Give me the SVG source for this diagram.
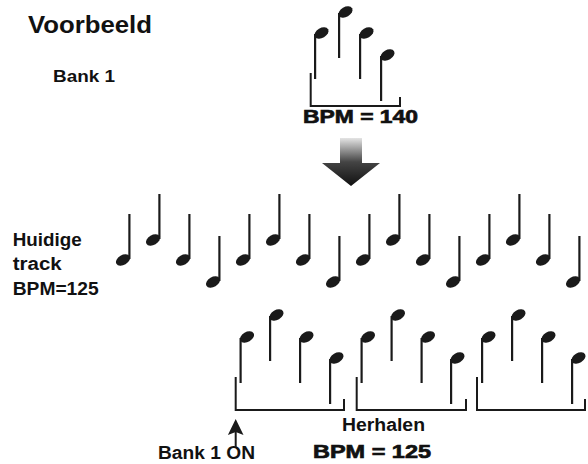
<svg xmlns="http://www.w3.org/2000/svg" xmlns:xlink="http://www.w3.org/1999/xlink" width="588" height="464" viewBox="0 0 588 464">
  <style>
    .t { font-family: "Liberation Sans", Arial, sans-serif; font-weight: bold; fill: #111; }
    .bpm { font-family: "Liberation Sans", Arial, sans-serif; font-weight: 900; fill: #111; stroke: #111; stroke-width: 0.7; }
    .stem { stroke: #1a1a1a; stroke-width: 2.2; fill: none; }
    .br { stroke: #1a1a1a; stroke-width: 2; fill: none; }
    .head { fill: #1a1a1a; }
  </style>
  <defs>
    <g id="up">
      <ellipse class="head" cx="0" cy="0" rx="7.6" ry="5" transform="rotate(-30)"/>
      <line class="stem" x1="6.4" y1="-1" x2="6.4" y2="-46"/>
    </g>
    <g id="down">
      <ellipse class="head" cx="0" cy="0" rx="7.6" ry="5" transform="rotate(-30)"/>
      <line class="stem" x1="-6.4" y1="1" x2="-6.4" y2="46"/>
    </g>
    <linearGradient id="arrowGrad" gradientUnits="userSpaceOnUse" x1="0" y1="138" x2="0" y2="186">
      <stop offset="0" stop-color="#e4e4e4"/>
      <stop offset="0.5" stop-color="#444"/>
      <stop offset="1" stop-color="#111"/>
    </linearGradient>
  </defs>
  <rect width="588" height="464" fill="#fff"/>

  <g id="title">
    <text class="t" x="28" y="33" font-size="23.5" textLength="124" lengthAdjust="spacingAndGlyphs">Voorbeeld</text>
  </g>
  <g id="bank1-label">
    <text class="t" x="53" y="82" font-size="17" textLength="62" lengthAdjust="spacingAndGlyphs">Bank 1</text>
  </g>

  <g id="bank1-pattern">
    <use xlink:href="#down" href="#down" x="321.5" y="33"/>
    <use xlink:href="#down" href="#down" x="345.5" y="12"/>
    <use xlink:href="#down" href="#down" x="366.5" y="33"/>
    <use xlink:href="#down" href="#down" x="387.5" y="55"/>
    <path class="br" d="M310.7,73 V106 H400 V97"/>
    <text class="bpm" x="303" y="123" font-size="19" textLength="115" lengthAdjust="spacingAndGlyphs">BPM = 140</text>
  </g>

  <g id="current-label">
    <text class="t" x="12.7" y="246" font-size="17.5" textLength="69" lengthAdjust="spacingAndGlyphs">Huidige</text>
    <text class="t" x="12.7" y="270" font-size="17.5" textLength="49" lengthAdjust="spacingAndGlyphs">track</text>
    <text class="t" x="12.7" y="295" font-size="17.5" textLength="86" lengthAdjust="spacingAndGlyphs">BPM=125</text>
  </g>

  <g id="current-track">
    <use xlink:href="#up" href="#up" x="123" y="260"/>
    <use xlink:href="#up" href="#up" x="153" y="240"/>
    <use xlink:href="#up" href="#up" x="183" y="260"/>
    <use xlink:href="#up" href="#up" x="213" y="282"/>
    <use xlink:href="#up" href="#up" x="243" y="260"/>
    <use xlink:href="#up" href="#up" x="273" y="240"/>
    <use xlink:href="#up" href="#up" x="303" y="260"/>
    <use xlink:href="#up" href="#up" x="333" y="282"/>
    <use xlink:href="#up" href="#up" x="363" y="260"/>
    <use xlink:href="#up" href="#up" x="393" y="240"/>
    <use xlink:href="#up" href="#up" x="423" y="260"/>
    <use xlink:href="#up" href="#up" x="453" y="282"/>
    <use xlink:href="#up" href="#up" x="483" y="260"/>
    <use xlink:href="#up" href="#up" x="513" y="240"/>
    <use xlink:href="#up" href="#up" x="543" y="260"/>
    <use xlink:href="#up" href="#up" x="573" y="282"/>
  </g>

  <g id="repeat-pattern">
    <use xlink:href="#down" href="#down" x="247" y="337"/>
    <use xlink:href="#down" href="#down" x="276.5" y="315"/>
    <use xlink:href="#down" href="#down" x="306.5" y="337"/>
    <use xlink:href="#down" href="#down" x="336.5" y="358"/>
    <path class="br" d="M235.7,377 V410 H344 V399"/>
    <use xlink:href="#down" href="#down" x="368" y="337"/>
    <use xlink:href="#down" href="#down" x="398" y="315"/>
    <use xlink:href="#down" href="#down" x="428" y="337"/>
    <use xlink:href="#down" href="#down" x="457.5" y="358"/>
    <path class="br" d="M356.7,377 V410 H466 V399"/>
    <use xlink:href="#down" href="#down" x="488.5" y="337"/>
    <use xlink:href="#down" href="#down" x="518.5" y="315"/>
    <use xlink:href="#down" href="#down" x="548.5" y="337"/>
    <use xlink:href="#down" href="#down" x="578.5" y="358"/>
    <path class="br" d="M477,377 V410 H585 V399"/>
  </g>

  <g id="labels">
    <text class="t" x="342" y="431" font-size="17.5" textLength="83" lengthAdjust="spacingAndGlyphs">Herhalen</text>
    <text class="bpm" x="313" y="458" font-size="19" textLength="118" lengthAdjust="spacingAndGlyphs">BPM = 125</text>
    <text class="t" x="158" y="459" font-size="17.5" textLength="97" lengthAdjust="spacingAndGlyphs">Bank 1 ON</text>
  </g>

  <g id="connectors">
    <path d="M340,138 H362 V163 H380 L351,186 L322,163 H340 Z" fill="url(#arrowGrad)"/>
    <line x1="235.7" y1="447" x2="235.7" y2="430" stroke="#1a1a1a" stroke-width="2"/>
    <path d="M235.7,419 L243.5,435 L235.7,432 L227.9,435 Z" fill="#1a1a1a"/>
  </g>
</svg>
